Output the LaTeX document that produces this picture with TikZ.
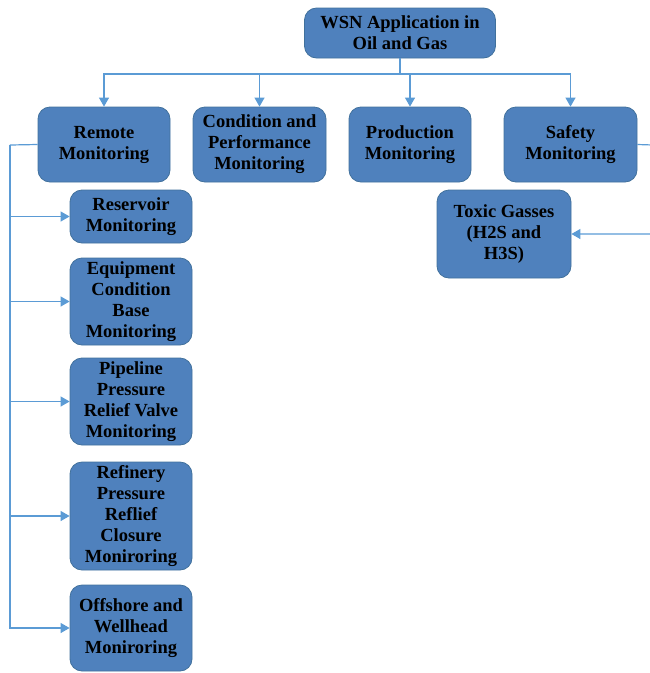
\documentclass[tikz,border=0pt]{standalone}
\usepackage{fontspec}
\setmainfont{Liberation Serif}
\usetikzlibrary{arrows.meta}
\definecolor{boxfill}{RGB}{79,129,189}
\definecolor{boxline}{RGB}{65,113,156}
\definecolor{linkblue}{RGB}{91,155,213}

\begin{document}
\begin{tikzpicture}[x=1pt,y=-1pt,
  box/.style={draw=boxline, fill=boxfill, thick, rounded corners=12pt, align=center,
    inner sep=2pt, font=\fontsize{18.5}{21}\selectfont\bfseries, text=black},
  link/.style={draw=linkblue, line width=1.2pt},
  >={Triangle[length=9pt,width=10pt]}]
\useasboundingbox (0,0) rectangle (650,673);

%%%%top
\node[box, minimum width=191pt, minimum height=50pt] (wsn) at (400,33) {WSN Application in\\Oil and Gas};

%%%%second row
\node[box, minimum width=132pt, minimum height=75pt] (remote) at (104,144.5) {Remote\\Monitoring};
\node[box, minimum width=133pt, minimum height=75pt] (cond) at (259.5,144.5) {Condition and\\Performance\\Monitoring};
\node[box, minimum width=122pt, minimum height=75pt] (prod) at (410,144.5) {Production\\Monitoring};
\node[box, minimum width=133pt, minimum height=75pt] (safety) at (570.5,144.5) {Safety\\Monitoring};

%%%%remote monitoring column
\node[box, minimum width=122pt, minimum height=53pt] (reservoir) at (131,216.5) {Reservoir\\Monitoring};
\node[box, minimum width=122pt, minimum height=87pt] (equip) at (131,301.5) {Equipment\\Condition\\Base\\Monitoring};
\node[box, minimum width=122pt, minimum height=87pt] (pipe) at (131,401.5) {Pipeline\\Pressure\\Relief Valve\\Monitoring};
\node[box, minimum width=122pt, minimum height=108pt] (refinery) at (131,516) {Refinery\\Pressure\\Reflief\\Closure\\Moniroring};
\node[box, minimum width=122pt, minimum height=86pt] (offshore) at (131,628) {Offshore and\\Wellhead\\Moniroring};

%%%%safety
\node[box, minimum width=134pt, minimum height=88pt] (toxic) at (504,234) {Toxic Gasses\\(H2S and\\H3S)};

%%%%connectors from top
\coordinate (bus) at (400,74);
\draw[link] (wsn.south) -- (bus);
\foreach \n in {remote,cond,prod,safety}
  \draw[link,->] (bus) -| (\n.north);

%%%%left spine
\coordinate (spine) at (10,145);
\draw[link] (remote.west) -- (spine);
\foreach \n in {reservoir,equip,pipe,refinery,offshore}
  \draw[link,->] (spine) |- (\n.west);

%%%%right side, runs off the page
\coordinate (edge) at (653,145);
\draw[link,->] (safety.east) -- (edge) |- (toxic.east);

\end{tikzpicture}
\end{document}
